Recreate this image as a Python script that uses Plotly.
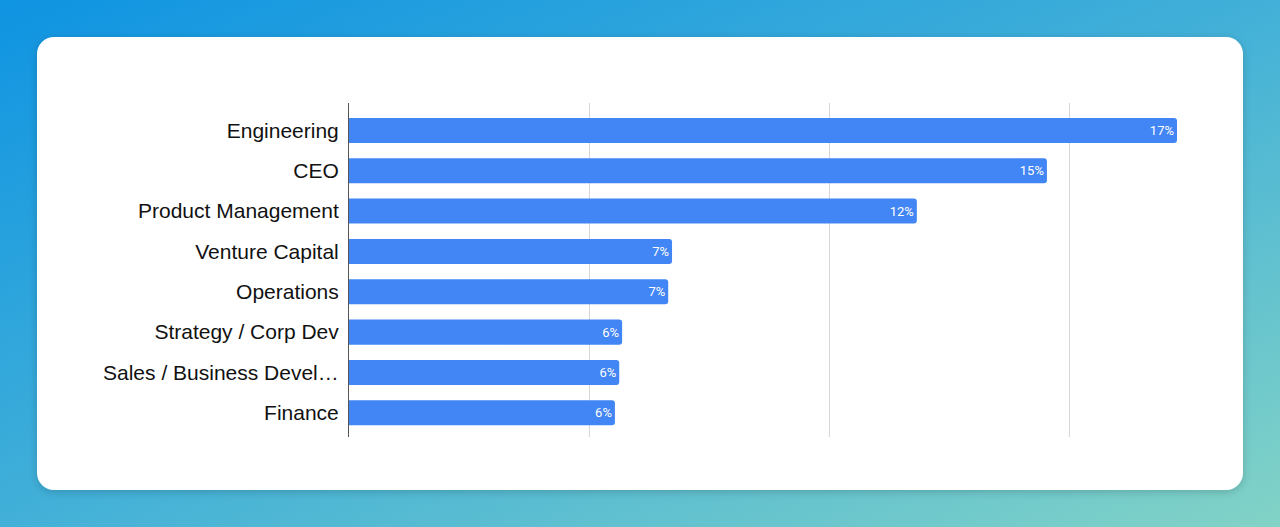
import base64
import plotly.graph_objects as go

roles = ['Engineering', 'CEO', 'Product Management', 'Venture Capital',
         'Operations', 'Strategy / Corp Dev', 'Sales / Business Devel…', 'Finance']
share = [17.25, 14.54, 11.83, 6.73, 6.65, 5.69, 5.63, 5.54]

W, H = 1280, 527
L, R, T, B = 349, 67, 103, 90
pw, ph = W - L - R, H - T - B

# gradient backdrop + white card, drawn as one svg behind the plot
svg = f'''<svg xmlns="http://www.w3.org/2000/svg" width="{W}" height="{H}">
<defs>
<linearGradient id="g" x1="0" y1="0" x2="1" y2="1">
<stop offset="0" stop-color="#0f94e2"/>
<stop offset="0.5" stop-color="#42b0d8"/>
<stop offset="1" stop-color="#82d3c6"/>
</linearGradient>
<filter id="s" x="-5%" y="-5%" width="110%" height="120%">
<feDropShadow dx="0" dy="2" stdDeviation="4" flood-color="#000" flood-opacity="0.18"/>
</filter>
</defs>
<rect width="{W}" height="{H}" fill="url(#g)"/>
<rect x="37" y="37" width="1206" height="453" rx="17" fill="#ffffff" filter="url(#s)"/>
</svg>'''
bg = 'data:image/svg+xml;base64,' + base64.b64encode(svg.encode()).decode()

fig = go.Figure(go.Bar(
    x=share,
    y=roles,
    orientation='h',
    marker=dict(color='#4285f4', line=dict(width=0)),
    texttemplate='%{x:.0f}%',
    textposition='inside',
    insidetextanchor='end',
    constraintext='none',
    textfont=dict(family='Roboto', size=13, color='#ffffff'),
    hoverinfo='skip',
))

fig.update_layout(
    width=W, height=H,
    margin=dict(l=L, r=R, t=T, b=B, pad=0),
    paper_bgcolor='rgba(0,0,0,0)',
    plot_bgcolor='rgba(0,0,0,0)',
    bargap=0.38,
    barcornerradius=3,
    showlegend=False,
    font=dict(family='Liberation Sans, Arial, sans-serif', color='#111111'),
    images=[dict(
        source=bg, xref='paper', yref='paper',
        x=-L / pw, y=1 + T / ph, sizex=W / pw, sizey=H / ph,
        xanchor='left', yanchor='top', sizing='stretch', layer='below',
    )],
    xaxis=dict(
        range=[0, 18], dtick=5, showgrid=True, gridcolor='#d6d6d6', gridwidth=1,
        zeroline=False, showticklabels=False, ticks='', fixedrange=True,
    ),
    yaxis=dict(
        range=[7.6, -0.68], showline=True, linecolor='#555555', linewidth=1,
        showgrid=False, ticks='', ticklabelstandoff=5,
        tickfont=dict(size=21, color='#111111'), fixedrange=True,
    ),
)

fig.write_html('out.html', config=dict(displayModeBar=False),
               post_script="document.body.style.margin='0';")
